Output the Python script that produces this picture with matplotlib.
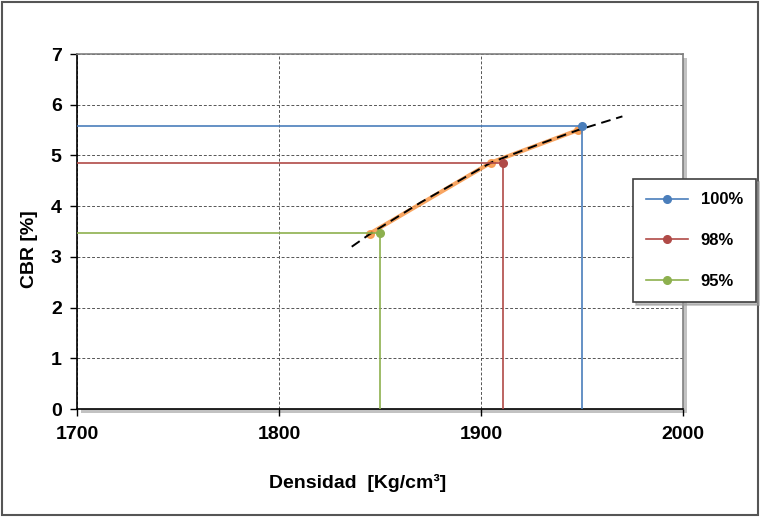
import matplotlib
matplotlib.use("Agg")
import matplotlib.pyplot as plt
from matplotlib.patches import Rectangle

plt.rcParams['font.family'] = ['Liberation Sans', 'DejaVu Sans']

# =========================
# DATOS
# =========================

# Ensayo CBR (puntos naranja)
dens_ensayo = [1845, 1905, 1948]
cbr_ensayo = [3.46, 4.86, 5.50]

# Linea de tendencia
dens_tend = [1836, 1845, 1870, 1905, 1930, 1948, 1970]
cbr_tend = [3.20, 3.45, 4.07, 4.86, 5.24, 5.50, 5.77]

# Lineas de compactacion
etiquetas = ["100%", "98%", "95%"]
dens_100 = [1700, 1950, 1950]
cbr_100 = [5.58, 5.58, 0]
dens_98 = [1700, 1911, 1911]
cbr_98 = [4.85, 4.85, 0]
dens_95 = [1700, 1850, 1850]
cbr_95 = [3.48, 3.48, 0]

x_ticks = [1700, 1800, 1900, 2000]
y_ticks = [0, 1, 2, 3, 4, 5, 6, 7]

# =========================
# GRAFICA
# =========================

fig = plt.figure(figsize=(7.6, 5.17), dpi=100)
ax = fig.add_axes([77 / 760, 1 - 409 / 517, 606 / 760, 355 / 517])

# sombra del area de grafico
fig.patches.append(Rectangle((81 / 760, 1 - 413 / 517), 606 / 760, 355 / 517,
                             transform=fig.transFigure, facecolor="#9a9a9a",
                             edgecolor="none", alpha=0.6, zorder=-1))
# borde exterior
fig.patches.append(Rectangle((0.002, 0.003), 0.995, 0.993,
                             transform=fig.transFigure, fill=False,
                             edgecolor="#555555", linewidth=1.5, zorder=5))

ax.set_facecolor("white")

ax.plot(dens_ensayo, cbr_ensayo, color="#F79646", lw=3, alpha=0.85,
        marker="o", ms=5.5, zorder=2)
ax.plot(dens_tend, cbr_tend, color="black", lw=1.4, dashes=(5, 3), zorder=3)

series = [(dens_100, cbr_100, "#4A7EBB"),
          (dens_98, cbr_98, "#B04A47"),
          (dens_95, cbr_95, "#8DB04E")]
for (d, c, col), lab in zip(series, etiquetas):
    ax.plot(d, c, color=col, lw=1.2, marker="o", ms=5.5, markevery=[1],
            label=lab, zorder=4)

ax.set_xlim(1700, 2000)
ax.set_ylim(0, 7)
ax.set_xticks(x_ticks)
ax.set_yticks(y_ticks)
ax.grid(True, color="#555555", linestyle=(0, (3, 2)), linewidth=0.7)
ax.set_axisbelow(True)

for s in ["left", "bottom"]:
    ax.spines[s].set_color("black")
    ax.spines[s].set_linewidth(1.2)
for s in ["top", "right"]:
    ax.spines[s].set_color("#808080")
    ax.spines[s].set_linewidth(1.2)

ax.tick_params(axis="both", direction="out", length=5, width=1,
               labelsize=14)
ax.tick_params(axis="y", pad=6)
ax.tick_params(axis="x", pad=7)
for t in ax.get_xticklabels() + ax.get_yticklabels():
    t.set_fontweight("bold")

ax.set_ylabel("CBR [%]", fontsize=14, fontweight="bold")
ax.yaxis.set_label_coords(-0.064, 0.45)
ax.set_xlabel("Densidad  [Kg/cm³]", fontsize=14, fontweight="bold")
ax.xaxis.set_label_coords((358 - 77) / 606, -0.183)

leg = fig.legend(loc="upper left", bbox_to_anchor=(633 / 760, 1 - 179 / 517),
                 borderaxespad=0, prop={"weight": "bold", "size": 12},
                 handlelength=2.5, handletextpad=0.75, labelspacing=1.55,
                 borderpad=0.8, fancybox=False, edgecolor="#404040",
                 shadow={"color": "#9a9a9a", "alpha": 0.6})
leg.get_frame().set_linewidth(1.2)

plt.savefig("out.png", dpi=100)
plt.close()
